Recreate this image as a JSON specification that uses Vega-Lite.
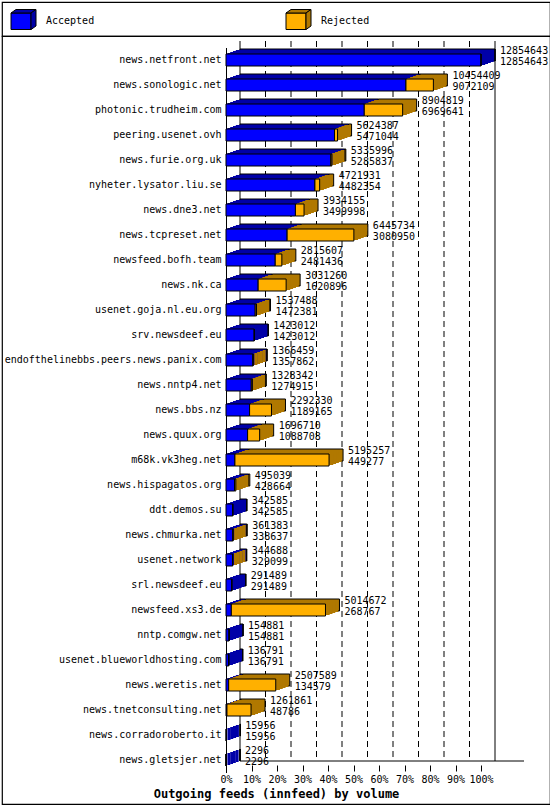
{
  "$schema": "https://vega.github.io/schema/vega-lite/v6.json",
  "padding": 1,
  "spacing": 0,
  "bounds": "flush",
  "background": "white",
  "config": {
    "font": "DejaVu Sans Mono",
    "view": {"stroke": "black", "strokeWidth": 1.2},
    "text": {"fontSize": 10, "color": "black"}
  },
  "datasets": {
    "status": [{"status": "Accepted"}, {"status": "Rejected"}],
    "grid": [
      {"pct": 0}, {"pct": 10}, {"pct": 20}, {"pct": 30}, {"pct": 40}, {"pct": 50},
      {"pct": 60}, {"pct": 70}, {"pct": 80}, {"pct": 90}, {"pct": 100}
    ],
    "feeds": [
      {"host": "news.netfront.net", "total": 12854643, "accepted": 12854643},
      {"host": "news.sonologic.net", "total": 10454409, "accepted": 9072109},
      {"host": "photonic.trudheim.com", "total": 8904819, "accepted": 6969641},
      {"host": "peering.usenet.ovh", "total": 5624387, "accepted": 5471044},
      {"host": "news.furie.org.uk", "total": 5335996, "accepted": 5285837},
      {"host": "nyheter.lysator.liu.se", "total": 4721931, "accepted": 4482354},
      {"host": "news.dne3.net", "total": 3934155, "accepted": 3499998},
      {"host": "news.tcpreset.net", "total": 6445734, "accepted": 3080950},
      {"host": "newsfeed.bofh.team", "total": 2815607, "accepted": 2481436},
      {"host": "news.nk.ca", "total": 3031260, "accepted": 1620896},
      {"host": "usenet.goja.nl.eu.org", "total": 1537488, "accepted": 1472381},
      {"host": "srv.newsdeef.eu", "total": 1423012, "accepted": 1423012},
      {"host": "endofthelinebbs.peers.news.panix.com", "total": 1366459, "accepted": 1357862},
      {"host": "news.nntp4.net", "total": 1328342, "accepted": 1274915},
      {"host": "news.bbs.nz", "total": 2292330, "accepted": 1189165},
      {"host": "news.quux.org", "total": 1696710, "accepted": 1088708},
      {"host": "m68k.vk3heg.net", "total": 5195257, "accepted": 449277},
      {"host": "news.hispagatos.org", "total": 495039, "accepted": 428664},
      {"host": "ddt.demos.su", "total": 342585, "accepted": 342585},
      {"host": "news.chmurka.net", "total": 361383, "accepted": 338637},
      {"host": "usenet.network", "total": 344688, "accepted": 329099},
      {"host": "srl.newsdeef.eu", "total": 291489, "accepted": 291489},
      {"host": "newsfeed.xs3.de", "total": 5014672, "accepted": 268767},
      {"host": "nntp.comgw.net", "total": 154881, "accepted": 154881},
      {"host": "usenet.blueworldhosting.com", "total": 136791, "accepted": 136791},
      {"host": "news.weretis.net", "total": 2507589, "accepted": 134579},
      {"host": "news.tnetconsulting.net", "total": 1261861, "accepted": 48786},
      {"host": "news.corradoroberto.it", "total": 15956, "accepted": 15956},
      {"host": "news.gletsjer.net", "total": 2296, "accepted": 2296}
    ]
  },
  "vconcat": [
    {
      "width": 548,
      "height": 34,
      "data": {"name": "status"},
      "encoding": {
        "x": {"field": "status", "type": "nominal", "scale": {"type": "point", "range": [19, 294], "padding": 0}, "axis": null}
      },
      "layer": [
        {
          "mark": {"type": "point", "shape": "M-10,-6h20v16.5h-20z", "size": 4, "filled": true, "opacity": 1, "stroke": "black", "strokeWidth": 1},
          "encoding": {"fill": {"condition": {"test": "datum.status === 'Accepted'", "value": "#0000ff"}, "value": "#ffb000"}}
        },
        {
          "mark": {"type": "point", "shape": "M-10,-6l5,-3.5h20l-5,3.5z", "size": 4, "filled": true, "opacity": 1, "stroke": "black", "strokeWidth": 1},
          "encoding": {"fill": {"condition": {"test": "datum.status === 'Accepted'", "value": "#0000a8"}, "value": "#b07800"}}
        },
        {
          "mark": {"type": "point", "shape": "M10,-6l5,-3.5v16.5l-5,3.5z", "size": 4, "filled": true, "opacity": 1, "stroke": "black", "strokeWidth": 1},
          "encoding": {"fill": {"condition": {"test": "datum.status === 'Accepted'", "value": "#0000a8"}, "value": "#b07800"}}
        },
        {
          "mark": {"type": "text", "align": "left", "baseline": "middle", "dx": 25, "dy": 2, "fontSize": 10},
          "encoding": {"text": {"field": "status", "type": "nominal"}}
        }
      ]
    },
    {
      "width": 548,
      "height": 768,
      "data": {"name": "feeds"},
      "resolve": {"scale": {"x": "independent"}},
      "layer": [
        {
          "data": {"name": "grid"},
          "layer": [
            {
              "mark": {"type": "rule", "color": "black", "strokeWidth": 1, "xOffset": 14, "yOffset": -19, "y2Offset": 1},
              "encoding": {
                "x": {
                  "field": "pct", "type": "quantitative",
                  "scale": {"domain": [0, 100], "range": [224, 479]},
                  "axis": {
                    "orient": "bottom", "offset": -39,
                    "values": [0, 10, 20, 30, 40, 50, 60, 70, 80, 90, 100],
                    "domain": false, "grid": false,
                    "ticks": true, "tickSize": 6, "tickColor": "black", "tickWidth": 1,
                    "labelExpr": "datum.value + '%'",
                    "labelFont": "DejaVu Sans Mono", "labelFontSize": 10, "labelColor": "black",
                    "labelPadding": 3, "labelFlush": false, "labelOverlap": false,
                    "title": "Outgoing feeds (innfeed) by volume",
                    "titleFont": "DejaVu Sans Mono", "titleFontSize": 12, "titleFontWeight": "bold",
                    "titleColor": "black", "titleX": 274, "titleY": 28,
                    "titleAlign": "center", "titleBaseline": "middle"
                  }
                },
                "y": {"datum": "news.netfront.net", "type": "nominal", "bandPosition": 0.5, "title": null},
                "y2": {"datum": "news.gletsjer.net", "bandPosition": 0.5},
                "strokeDash": {"condition": {"test": "datum.pct === 0 || datum.pct === 100", "value": [1, 0]}, "value": [6, 4]}
              }
            },
            {
              "transform": [{"filter": "datum.pct === 0"}],
              "mark": {"type": "rule", "color": "black", "strokeWidth": 1, "xOffset": 14, "x2Offset": 43, "yOffset": 1},
              "encoding": {
                "x": {"datum": 0, "type": "quantitative", "title": null},
                "x2": {"datum": 100},
                "y": {"datum": "news.gletsjer.net", "type": "nominal", "bandPosition": 0.5, "title": null}
              }
            }
          ]
        },
        {
          "encoding": {
            "y": {
              "field": "host", "type": "nominal", "sort": null,
              "scale": {
                "domain": ["news.netfront.net", "news.sonologic.net", "photonic.trudheim.com", "peering.usenet.ovh", "news.furie.org.uk", "nyheter.lysator.liu.se", "news.dne3.net", "news.tcpreset.net", "newsfeed.bofh.team", "news.nk.ca", "usenet.goja.nl.eu.org", "srv.newsdeef.eu", "endofthelinebbs.peers.news.panix.com", "news.nntp4.net", "news.bbs.nz", "news.quux.org", "m68k.vk3heg.net", "news.hispagatos.org", "ddt.demos.su", "news.chmurka.net", "usenet.network", "srl.newsdeef.eu", "newsfeed.xs3.de", "nntp.comgw.net", "usenet.blueworldhosting.com", "news.weretis.net", "news.tnetconsulting.net", "news.corradoroberto.it", "news.gletsjer.net"],
                "range": [11.5, 736.5], "paddingInner": 0.52, "paddingOuter": 0.26
              },
              "axis": {
                "title": null, "orient": "left", "offset": -224,
                "ticks": false, "domain": true, "domainColor": "black", "grid": false,
                "labelFont": "DejaVu Sans Mono", "labelFontSize": 10, "labelColor": "black",
                "labelPadding": 5, "labelLimit": 300
              }
            },
            "x": {"field": "accepted", "type": "quantitative", "scale": {"domain": [0, 12854643], "range": [224, 479]}, "axis": null}
          },
          "layer": [
            {"mark": {"type": "bar", "fill": "#0000a8", "stroke": "black", "strokeWidth": 1, "xOffset": 14, "x2Offset": 14, "yOffset": -5, "y2Offset": -5}},
            {"mark": {"type": "bar", "fill": "#0000a8", "stroke": "#0000a8", "strokeWidth": 2.8, "height": 9.2, "xOffset": 11.2, "x2Offset": 11.2, "yOffset": -4, "y2Offset": -4}},
            {"mark": {"type": "bar", "fill": "#0000a8", "stroke": "#0000a8", "strokeWidth": 2.8, "height": 9.2, "xOffset": 8.4, "x2Offset": 8.4, "yOffset": -3, "y2Offset": -3}},
            {"mark": {"type": "bar", "fill": "#0000a8", "stroke": "#0000a8", "strokeWidth": 2.8, "height": 9.2, "xOffset": 5.6, "x2Offset": 5.6, "yOffset": -2, "y2Offset": -2}},
            {"mark": {"type": "bar", "fill": "#0000a8", "stroke": "#0000a8", "strokeWidth": 2.8, "height": 9.2, "xOffset": 2.8, "x2Offset": 2.8, "yOffset": -1, "y2Offset": -1}},
            {"mark": {"type": "bar", "fill": "#b07800", "stroke": "black", "strokeWidth": 1, "xOffset": 14, "x2Offset": 14, "yOffset": -5, "y2Offset": -5},
             "encoding": {"x2": {"field": "total"}}},
            {"mark": {"type": "bar", "fill": "#b07800", "stroke": "#b07800", "height": 9.2, "xOffset": 11.2, "x2Offset": 11.2, "yOffset": -4, "y2Offset": -4},
             "encoding": {"x2": {"field": "total"}, "strokeWidth": {"condition": {"test": "datum.total > datum.accepted", "value": 2.8}, "value": 0}}},
            {"mark": {"type": "bar", "fill": "#b07800", "stroke": "#b07800", "height": 9.2, "xOffset": 8.4, "x2Offset": 8.4, "yOffset": -3, "y2Offset": -3},
             "encoding": {"x2": {"field": "total"}, "strokeWidth": {"condition": {"test": "datum.total > datum.accepted", "value": 2.8}, "value": 0}}},
            {"mark": {"type": "bar", "fill": "#b07800", "stroke": "#b07800", "height": 9.2, "xOffset": 5.6, "x2Offset": 5.6, "yOffset": -2, "y2Offset": -2},
             "encoding": {"x2": {"field": "total"}, "strokeWidth": {"condition": {"test": "datum.total > datum.accepted", "value": 2.8}, "value": 0}}},
            {"mark": {"type": "bar", "fill": "#b07800", "stroke": "#b07800", "height": 9.2, "xOffset": 2.8, "x2Offset": 2.8, "yOffset": -1, "y2Offset": -1},
             "encoding": {"x2": {"field": "total"}, "strokeWidth": {"condition": {"test": "datum.total > datum.accepted", "value": 2.8}, "value": 0}}},
            {"mark": {"type": "bar", "fill": "#0000ff", "stroke": "black", "strokeWidth": 1}},
            {"mark": {"type": "bar", "fill": "#ffb000", "stroke": "black", "strokeWidth": 1},
             "encoding": {"x2": {"field": "total"}}},
            {
              "mark": {"type": "text", "align": "left", "baseline": "middle", "dx": 19, "dy": -9.5, "fontSize": 10, "color": "black"},
              "encoding": {
                "x": {"field": "total", "type": "quantitative"},
                "text": {"field": "total", "type": "quantitative", "format": "d"}
              }
            },
            {
              "mark": {"type": "text", "align": "left", "baseline": "middle", "dx": 19, "dy": 1.5, "fontSize": 10, "color": "black"},
              "encoding": {
                "x": {"field": "total", "type": "quantitative"},
                "text": {"field": "accepted", "type": "quantitative", "format": "d"}
              }
            }
          ]
        }
      ]
    }
  ]
}
